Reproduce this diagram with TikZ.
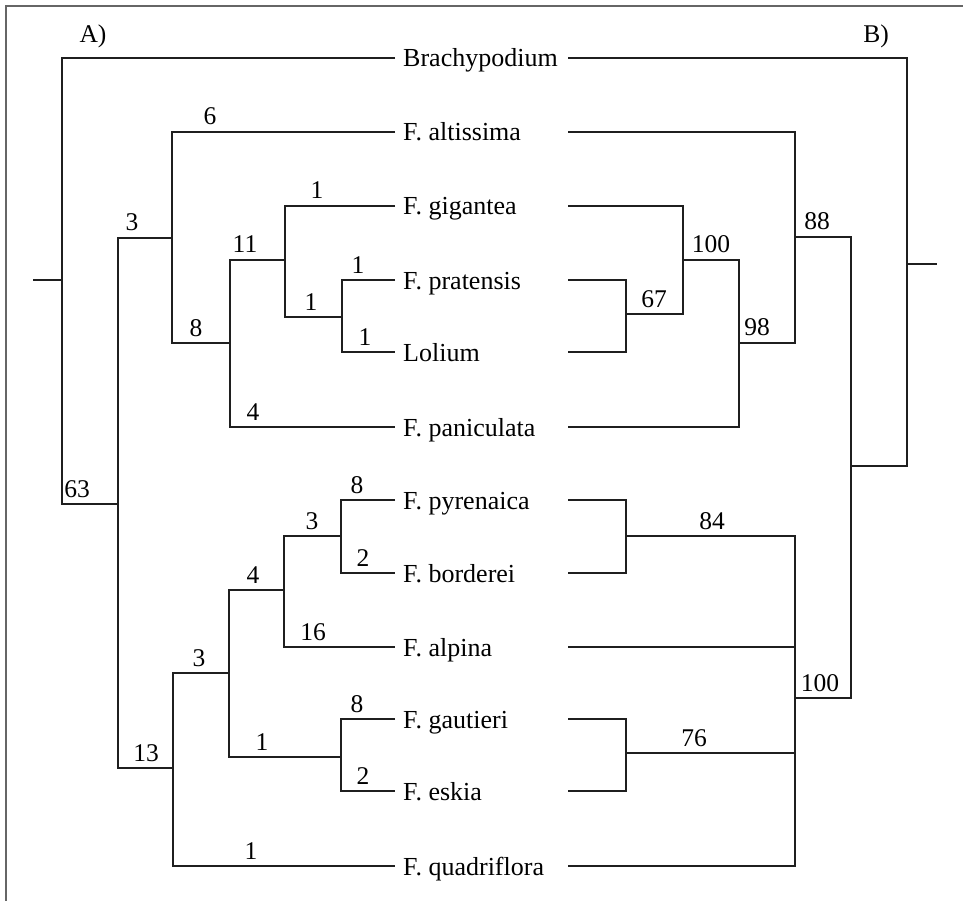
\documentclass[tikz,border=0pt]{standalone}
\usepackage{fontspec}
\setmainfont{Liberation Serif}
\begin{document}
\begin{tikzpicture}[x=1pt,y=-1pt,
  br/.style={draw=black!88, line width=2.8pt, line join=miter},
  frame/.style={draw=black!60, line width=1.4pt},
  taxon/.style={anchor=base west, inner sep=0pt, font=\fontsize{26}{31}\selectfont},
  num/.style={anchor=base, inner sep=0pt, font=\fontsize{25.5}{30}\selectfont},
  panel/.style={anchor=center, inner sep=0pt, font=\fontsize{25.5}{30}\selectfont}]
\useasboundingbox (0,0) rectangle (963,901);
% frame
\coordinate (f1) at (963,6);
\coordinate (f2) at (6,6);
\coordinate (f3) at (6,901);
\draw[frame] (f1) -- (f2) -- (f3);
% panel labels
\node[panel] (pA) at (93,36) {A)};
\node[panel] (pB) at (876,36) {B)};
% taxa
\foreach \n/\y/\t in {brachy/58/Brachypodium, altis/132/F. altissima, gig/206/F. gigantea,
  prat/280/F. pratensis, lol/352/Lolium, panic/427/F. paniculata, pyr/500/F. pyrenaica,
  bord/573/F. borderei, alp/647/F. alpina, gaut/719/F. gautieri, esk/791/F. eskia,
  quad/866/F. quadriflora}{
  \node[taxon] (\n) at (403,\y+9) {\t};
  \coordinate (L\n) at (395,\y);
  \coordinate (R\n) at (568,\y);
}
% ---- left tree ----
\coordinate (s0) at (33,280);
\coordinate (a0) at (62,280);
\coordinate (a63) at (62,504);
\coordinate (b63) at (118,504);
\coordinate (c3) at (172,238);
\coordinate (c13) at (118,768);
\coordinate (d13) at (173,768);
\coordinate (c8) at (172,343);
\coordinate (d8) at (230,343);
\coordinate (c11) at (285,260);
\coordinate (d11) at (230,427);
\coordinate (c1) at (285,317);
\coordinate (d1) at (342,317);
\coordinate (cpl) at (342,352);
\coordinate (c3b) at (229,673);
\coordinate (d3b) at (173,866);
\coordinate (c4) at (284,590);
\coordinate (d4) at (229,757);
\coordinate (e1) at (341,757);
\coordinate (c3c) at (341,536);
\coordinate (d3c) at (284,647);
\coordinate (cpb) at (341,573);
\coordinate (cge) at (341,791);
\draw[br] (s0) -- (a0);
\draw[br] (Lbrachy) -| (a63) -- (b63);
\draw[br] (c3) -| (c13) -- (d13);
\draw[br] (Laltis) -| (c8) -- (d8);
\draw[br] (c11) -| (d11) -- (Lpanic);
\draw[br] (Lgig) -| (c1) -- (d1);
\draw[br] (Lprat) -| (cpl) -- (Llol);
\draw[br] (c3b) -| (d3b) -- (Lquad);
\draw[br] (c4) -| (d4) -- (e1);
\draw[br] (c3c) -| (d3c) -- (Lalp);
\draw[br] (Lpyr) -| (cpb) -- (Lbord);
\draw[br] (Lgaut) -| (cge) -- (Lesk);
% left labels
\foreach \x/\y/\t in {210/132/6, 132/238/3, 245/260/11, 317/206/1, 311/317/1, 358/280/1,
  365/352/1, 196/343/8, 253/427/4, 77/504/63, 146/768/13, 199/673/3, 262/757/1,
  251/866/1, 253/590/4, 313/647/16, 312/536/3, 357/500/8, 363/573/2, 357/719/8, 363/791/2}{
  \node[num] at (\x,\y-7) {\t};
}
% ---- right tree ----
\coordinate (r0) at (907,466);
\coordinate (r0b) at (851,466);
\coordinate (rs) at (907,264);
\coordinate (rs2) at (937,264);
\coordinate (r88) at (795,343);
\coordinate (r98) at (739,343);
\coordinate (r88a) at (795,237);
\coordinate (r100) at (851,698);
\coordinate (r100b) at (795,698);
\coordinate (r67) at (683,314);
\coordinate (r67b) at (626,314);
\coordinate (r100c) at (683,260);
\coordinate (r98b) at (739,427);
\coordinate (rpl) at (626,352);
\coordinate (r84) at (626,536);
\coordinate (rlow) at (795,866);
\coordinate (ralp) at (795,647);
\coordinate (r76) at (626,753);
\coordinate (r76b) at (795,753);
\coordinate (rpb) at (626,573);
\coordinate (rge) at (626,791);
\draw[br] (Rbrachy) -| (r0) -- (r0b);
\draw[br] (rs) -- (rs2);
\draw[br] (Raltis) -| (r88) -- (r98);
\draw[br] (r88a) -| (r100) -- (r100b);
\draw[br] (Rgig) -| (r67) -- (r67b);
\draw[br] (r100c) -| (r98b) -- (Rpanic);
\draw[br] (Rprat) -| (rpl) -- (Rlol);
\draw[br] (r84) -| (rlow) -- (Rquad);
\draw[br] (Ralp) -- (ralp);
\draw[br] (r76) -- (r76b);
\draw[br] (Rpyr) -| (rpb) -- (Rbord);
\draw[br] (Rgaut) -| (rge) -- (Resk);
% right labels
\foreach \x/\y/\t in {654/314/67, 711/260/100, 757/342/98, 817/237/88, 712/536/84,
  694/753/76, 820/698/100}{
  \node[num] at (\x,\y-7) {\t};
}
\end{tikzpicture}
\end{document}
